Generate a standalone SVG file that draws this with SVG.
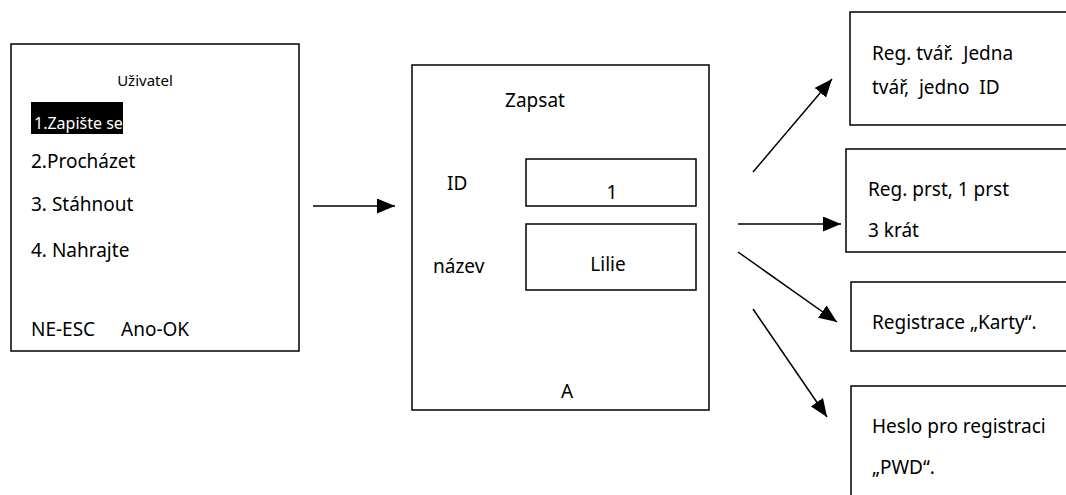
<svg xmlns="http://www.w3.org/2000/svg" width="1066" height="495" viewBox="0 0 1066 495">
<defs>
<style>
.box{fill:#fff;stroke:#000;stroke-width:1.5}
.t{font-family:"Noto Sans","Open Sans","DejaVu Sans",sans-serif;font-size:19px;fill:#000}
.c{text-anchor:middle}
.ln{stroke:#000;stroke-width:1.5;fill:none}
</style>
<marker id="ah" viewBox="0 0 18 15" refX="18" refY="7.5" markerWidth="18" markerHeight="15" markerUnits="userSpaceOnUse" orient="auto">
<path d="M0,0 L18,7.5 L0,15 Z" fill="#000"/>
</marker>
</defs>
<rect width="1066" height="495" fill="#fff"/>
<g id="menu">
<rect class="box" x="11" y="44" width="288" height="307"/>
<text class="t c" x="145" y="86" style="font-size:15px">Uživatel</text>
<rect x="31" y="102" width="92" height="32" fill="#000"/>
<text class="t" x="34" y="129" style="font-size:16px;fill:#fff">1.Zapište se</text>
<text class="t" x="31" y="168">2.Procházet</text>
<text class="t" x="31" y="211">3. Stáhnout</text>
<text class="t" x="31" y="257">4. Nahrajte</text>
<text class="t" x="31" y="336">NE-ESC</text>
<text class="t" x="121" y="336">Ano-OK</text>
</g>
<g id="enroll">
<rect class="box" x="412" y="65" width="297" height="345"/>
<text class="t c" x="535" y="107">Zapsat</text>
<text class="t" x="447" y="190">ID</text>
<rect class="box" x="526" y="159" width="170" height="47"/>
<text class="t c" x="612" y="199">1</text>
<text class="t" x="433" y="273">název</text>
<rect class="box" x="526" y="224" width="170" height="66"/>
<text class="t c" x="608" y="271">Lilie</text>
<text class="t c" x="567" y="398">A</text>
</g>
<g id="face">
<rect class="box" x="850" y="12" width="230" height="113"/>
<text class="t" x="872" y="60" xml:space="preserve">Reg. tvář.  Jedna</text>
<text class="t" x="872" y="94" xml:space="preserve">tvář,  jedno  ID</text>
</g>
<g id="finger">
<rect class="box" x="846" y="149" width="234" height="103"/>
<text class="t" x="868" y="196">Reg. prst, 1 prst</text>
<text class="t" x="868" y="237">3 krát</text>
</g>
<g id="card">
<rect class="box" x="851" y="282" width="229" height="69"/>
<text class="t" x="872" y="329">Registrace „Karty“.</text>
</g>
<g id="pwd">
<rect class="box" x="851" y="386" width="229" height="120"/>
<text class="t" x="872" y="433">Heslo pro registraci</text>
<text class="t" x="872" y="474">„PWD“.</text>
</g>
<g id="connectors">
<line class="ln" x1="313" y1="206" x2="395" y2="206" marker-end="url(#ah)"/>
<line class="ln" x1="753" y1="172" x2="832" y2="79" marker-end="url(#ah)"/>
<line class="ln" x1="738" y1="224" x2="841" y2="224" marker-end="url(#ah)"/>
<line class="ln" x1="738" y1="252" x2="837" y2="322" marker-end="url(#ah)"/>
<line class="ln" x1="753" y1="309" x2="827" y2="417" marker-end="url(#ah)"/>
</g>
</svg>
